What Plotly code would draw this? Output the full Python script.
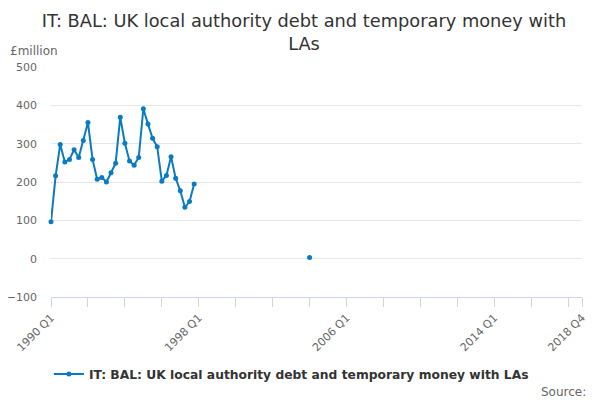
import plotly.graph_objects as go

# Categories: every quarter from 1990 Q1 to 2018 Q4
years = list(range(1990, 2019))
quarters = [f"{y} Q{q}" for y in years for q in range(1, 5)]

# Observed values (£million)
early_periods = [f"{y} Q{q}" for y in range(1990, 1998) for q in range(1, 5)]
early_values = [96, 216, 298, 252, 259, 284, 264, 308,
                355, 259, 207, 212, 200, 224, 249, 369,
                301, 255, 244, 264, 391, 351, 314, 292,
                202, 217, 266, 210, 177, 134, 149, 195]
late_periods = ["2004 Q1"]
late_values = [3]

labelled_ticks = ["1990 Q1", "1998 Q1", "2006 Q1", "2014 Q1", "2018 Q4"]
series_name = "IT: BAL: UK local authority debt and temporary money with LAs"
title_text = "IT: BAL: UK local authority debt and temporary money with<br>LAs"

lookup = dict(zip(early_periods, early_values))
lookup.update(dict(zip(late_periods, late_values)))
y_vals = [lookup.get(q) for q in quarters]

tick_vals = [quarters[i] for i in range(0, len(quarters), 8)] + ["2018 Q4"]
tick_text = [q if q in labelled_ticks else "" for q in tick_vals]

blue = "#0a7bc2"
fig = go.Figure()
fig.add_trace(go.Scatter(
    x=quarters, y=y_vals, mode="lines+markers", name=series_name,
    line=dict(color=blue, width=2), marker=dict(color=blue, size=5),
    connectgaps=False, showlegend=True, cliponaxis=False,
))

# page body has an 8px margin, so the figure is placed at (8, 8)
fig.update_layout(
    width=592, height=392,
    margin=dict(l=43, r=18, t=59, b=103, autoexpand=False),
    paper_bgcolor="white", plot_bgcolor="white",
    font=dict(family="DejaVu Sans", color="#333333"),
    title=dict(text=title_text, x=0.5, xanchor="center", y=0.9515, yanchor="top",
               font=dict(size=17.8, color="#333333", family="DejaVu Sans")),
    showlegend=True,
    legend=dict(orientation="h", x=-0.004, xanchor="left", y=-0.335, yanchor="middle",
                font=dict(size=12.3, color="#333333", family="DejaVu Sans", weight="bold"),
                ),
    annotations=[
        dict(text="£million", xref="paper", yref="paper", x=-0.081, y=1.07,
             xanchor="left", yanchor="middle", showarrow=False,
             font=dict(size=12, color="#666666")),
        dict(text="Source:", xref="paper", yref="paper", x=1.012, y=-0.412,
             xanchor="right", yanchor="middle", showarrow=False,
             font=dict(size=12, color="#666666")),
    ],
)

fig.update_xaxes(
    type="category", categoryorder="array", categoryarray=quarters,
    range=[0, len(quarters) - 1], automargin=False,
    tickmode="array", tickvals=tick_vals, ticktext=tick_text,
    tickangle=-45, tickfont=dict(size=11, color="#666666"),
    ticks="outside", ticklen=9, tickcolor="#ccd6eb",
    showline=True, linecolor="#ccd6eb", linewidth=1,
    showgrid=False, zeroline=False,
)
fig.update_yaxes(
    range=[-100, 500], dtick=100, tick0=0, automargin=False,
    tickfont=dict(size=11, color="#666666"), ticklabelstandoff=13,
    showgrid=True, gridcolor="#e6e6e6", gridwidth=1,
    zeroline=False, showline=False, ticks="",
)

fig.write_html("out.html")
